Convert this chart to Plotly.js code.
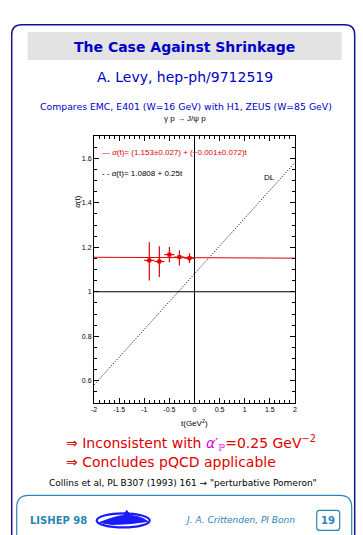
<!DOCTYPE html>
<html>
<head>
<meta charset="utf-8">
<script src="https://cdn.plot.ly/plotly-3.0.1.min.js"></script>
<style>html,body{margin:0;padding:0;background:#fff;}#chart{width:363px;height:535px;}</style>
</head>
<body>
<div id="chart"></div>
<script>
// ---- data ----
const tVals = [-0.9, -0.7, -0.5, -0.3, -0.1];
const alphaVals = [1.141, 1.136, 1.167, 1.156, 1.151];
const alphaErrPlus = [0.082, 0.068, 0.034, 0.030, 0.022];
const alphaErrMinus = [0.090, 0.070, 0.034, 0.038, 0.022];
const tErr = [0.1, 0.1, 0.1, 0.1, 0.1];
const fitIntercept = 1.153, fitSlope = -0.001;
const dlIntercept = 1.0808, dlSlope = 0.25;
const tLine = [-2, 2];
const refAlpha = 1;
const xTickVals = [-2, -1.5, -1, -0.5, 0, 0.5, 1, 1.5, 2];
const xTickText = ['-2', '-1.5', '-1', '-0.5', '0', '0.5', '1', '1.5', '2'];
const yTickVals = [0.6, 0.8, 1, 1.2, 1.4, 1.6];
const yTickText = ['0.6', '0.8', '1', '1.2', '1.4', '1.6'];

// ---- geometry ----
const FW = 363, FH = 535;
const L = 94.3, R = 295.3, T = 136, B = 402.7;
const W = R - L, H = B - T;
const px = x => (x - L) / W;
const py = y => (B - y) / H;
function path(pts) {
  return pts.map(p => {
    const c = p[0]; const nums = [];
    for (let i = 1; i < p.length; i += 2) nums.push(px(p[i]).toFixed(5) + ',' + py(p[i + 1]).toFixed(5));
    return c + nums.join(' ');
  }).join(' ');
}

const red = '#e00000';
const dark = '#14148a';
const blue = '#0000c8';
const teal = '#2a86b4';

const traces = [
  { x: tLine, y: tLine.map(t => dlIntercept + dlSlope * t), mode: 'lines',
    line: { color: 'black', width: 1, dash: '1px,1.6px' }, hoverinfo: 'skip' },
  { x: tLine, y: tLine.map(t => fitIntercept + fitSlope * t), mode: 'lines',
    line: { color: red, width: 1 }, hoverinfo: 'skip' },
  { x: tVals, y: alphaVals, mode: 'markers',
    marker: { color: red, size: 4, symbol: 'square' },
    error_y: { type: 'data', symmetric: false, array: alphaErrPlus, arrayminus: alphaErrMinus, color: red, thickness: 1.2, width: 0 },
    error_x: { type: 'data', array: tErr, color: red, thickness: 1.2, width: 0 } }
];

const ff = 'DejaVu Sans, Verdana, sans-serif';
const af = 'Liberation Sans, Arial, sans-serif';
function ann(x, y, text, size, color, opts) {
  return Object.assign({ xref: 'paper', yref: 'paper', x: px(x), y: py(y), text: text, showarrow: false,
    font: { family: ff, size: size, color: color }, xanchor: 'center', yanchor: 'middle' }, opts || {});
}

const annotations = [
  ann(185, 47, '<b>The Case Against Shrinkage</b>', 14, blue),
  ann(185, 77, 'A. Levy, hep-ph/9712519', 14, blue),
  ann(186, 107, 'Compares EMC, E401 (W=16 GeV) with H1, ZEUS (W=85 GeV)', 9.3, blue),
  ann(185, 119, 'γ p → J/ψ p', 8, 'black', { font: { family: af, size: 8, color: 'black' } }),
  ann(100, 152, '— <i>α</i>(t)= (1.153±0.027) + (−0.001±0.072)t', 8, red, { xanchor: 'left', font: { family: af, size: 8, color: red } }),
  ann(100, 173, '- - <i>α</i>(t)= 1.0808 + 0.25t', 8, 'black', { xanchor: 'left', font: { family: af, size: 8, color: 'black' } }),
  ann(270, 177, 'DL', 8, 'black', { font: { family: af, size: 8, color: 'black' } }),
  ann(77, 202, '<i>α</i>(t)', 8, 'black', { textangle: -90, font: { family: af, size: 8, color: 'black' } }),
  ann(195, 423, 't(GeV<sup>2</sup>)', 8, 'black', { font: { family: af, size: 8, color: 'black' } }),
  ann(64, 443, '⇒ Inconsistent with <span style="color:#e000e0"><i>α</i>′<sub>ℙ</sub></span>=0.25 GeV<sup>−2</sup>', 14, red, { xanchor: 'left' }),
  ann(64, 462, '⇒ Concludes pQCD applicable', 14, red, { xanchor: 'left' }),
  ann(183, 483, 'Collins et al, PL B307 (1993) 161 → "perturbative Pomeron"', 9, 'black'),
  ann(59, 520, '<b>LISHEP 98</b>', 10, teal),
  ann(240, 520, '<i>J. A. Crittenden, PI Bonn</i>', 9, teal),
  ann(328.5, 520, '<b>19</b>', 10, teal)
];

const shapes = [
  { type: 'rect', xref: 'paper', yref: 'paper', x0: px(28), x1: px(342), y0: py(32), y1: py(60),
    fillcolor: '#e3e3e3', line: { width: 0 }, layer: 'below' },
  { type: 'path', xref: 'paper', yref: 'paper', line: { color: dark, width: 1.5 },
    path: path([['M', 12, 545], ['L', 12, 35], ['Q', 12, 25, 22, 25], ['L', 345, 25], ['Q', 355, 25, 355, 35], ['L', 355, 545]]) },
  { type: 'path', xref: 'paper', yref: 'paper', line: { color: teal, width: 1.2 },
    path: path([['M', 17, 545], ['L', 17, 507], ['Q', 17, 495, 29, 495], ['L', 340, 495], ['Q', 352, 495, 352, 507], ['L', 352, 545]]) },
  { type: 'path', xref: 'paper', yref: 'paper', line: { color: teal, width: 1.2 },
    path: path([['M', 317, 513], ['Q', 317, 510, 320, 510], ['L', 337, 510], ['Q', 340, 510, 340, 513], ['L', 340, 527], ['Q', 340, 530, 337, 530], ['L', 320, 530], ['Q', 317, 530, 317, 527], ['Z']]) },
  { type: 'circle', xref: 'paper', yref: 'paper', x0: px(97), x1: px(150), y0: py(513), y1: py(527),
    line: { color: '#1a1aff', width: 2.2 } },
  { type: 'path', xref: 'paper', yref: 'paper', fillcolor: '#1a1aff', line: { color: '#1a1aff', width: 1 },
    path: path([['M', 100, 522], ['Q', 115, 516, 124, 515], ['L', 127, 510], ['L', 131, 515], ['Q', 142, 516, 148, 521], ['Q', 130, 524, 112, 524], ['Z']]) },
  { type: 'line', xref: 'paper', yref: 'y', x0: 0, x1: 1, y0: refAlpha, y1: refAlpha,
    line: { color: 'black', width: 1 } }
];

const axisCommon = {
  showline: true, mirror: 'allticks', linecolor: 'black', linewidth: 1,
  ticks: 'inside', ticklen: 5, tickwidth: 1, tickcolor: 'black',
  showgrid: false, fixedrange: true,
  tickfont: { family: af, size: 7, color: 'black' }
};

const layout = {
  width: FW, height: FH,
  margin: { l: L, r: FW - R, t: T, b: FH - B },
  paper_bgcolor: 'white', plot_bgcolor: 'white',
  showlegend: false,
  xaxis: Object.assign({}, axisCommon, {
    range: [-2, 2], tickmode: 'array', tickvals: xTickVals, ticktext: xTickText,
    zeroline: true, zerolinecolor: 'black', zerolinewidth: 1,
    minor: { ticks: 'inside', dtick: 0.1, tick0: 0, ticklen: 3, tickcolor: 'black', showgrid: false }
  }),
  yaxis: Object.assign({}, axisCommon, {
    range: [0.5, 1.7], tickmode: 'array', tickvals: yTickVals, ticktext: yTickText,
    zeroline: false,
    minor: { ticks: 'inside', dtick: 0.05, tick0: 0, ticklen: 3, tickcolor: 'black', showgrid: false }
  }),
  annotations: annotations,
  shapes: shapes
};

Plotly.newPlot('chart', traces, layout, { displayModeBar: false, staticPlot: true });
</script>
</body>
</html>
